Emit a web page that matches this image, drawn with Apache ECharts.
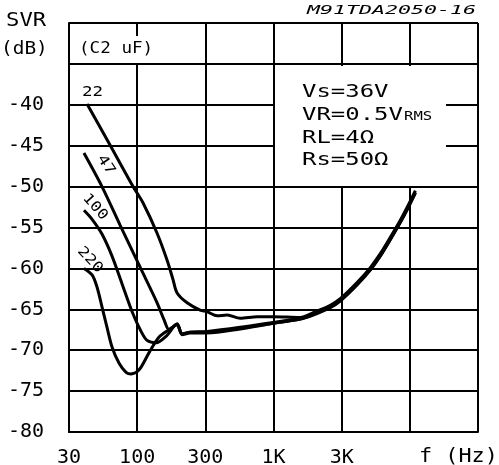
<!DOCTYPE html>
<html><head><meta charset="utf-8">
<script src="https://cdn.jsdelivr.net/npm/echarts@6/dist/echarts.min.js"></script>
<style>html,body{margin:0;padding:0;background:#fff}#c{width:499px;height:465px}</style>
</head><body><div id="c"></div>
<script>
// Tick labels for the x grid lines (half-decade steps 30,100,300,1K,3K,10K,30K)
const xTickLabels = ['30', '100', '300', '1K', '3K', '', ''];
const yMin = -80, yMax = -30, yStep = 5;

// C2 = 22 uF
const freq22 = [42.9, 62.2, 93.3, 110.5, 140, 165.8, 183.5, 196.3, 232.5, 289.6, 326, 386, 457, 570, 759, 995, 1570, 1956, 2608, 3088, 4117, 5129, 6073, 7193, 8516, 9585, 10975];
const svr22  = [-39.9, -44.7, -50.0, -52.0, -55.7, -59.0, -61.4, -63.0, -64.2, -65.1, -65.3, -65.8, -65.7, -66.1, -65.9, -65.9, -66.0, -65.4, -64.5, -63.7, -61.7, -59.9, -58.2, -56.2, -54.1, -52.5, -50.5];
// C2 = 47 uF
const freq47 = [40.7, 55.2, 74.9, 106.8, 140, 157.6, 171.5, 196.3, 213.6, 244.6, 326, 570, 995, 1570, 1956, 2608, 3088, 4117, 5129, 6073, 7193, 8516, 9585, 10975];
const svr47  = [-45.9, -50.0, -54.7, -60.1, -64.2, -66.3, -67.5, -66.8, -68.0, -67.8, -67.8, -67.3, -66.7, -66.2, -65.6, -64.7, -63.9, -61.9, -60.1, -58.4, -56.4, -54.3, -52.7, -50.7];
// C2 = 100 uF
const freq100 = [40.7, 46.7, 55.2, 65.4, 77.5, 91.8, 106.8, 118.2, 137.7, 163.0, 196.3, 213.6, 244.6, 326, 570, 995, 1570, 1956, 2608, 3088, 4117, 5129, 6073, 7193, 8516, 9585, 10975];
const svr100  = [-52.9, -54.0, -55.8, -58.5, -61.9, -65.3, -67.7, -68.8, -69.1, -68.3, -66.8, -68.0, -67.8, -67.7, -67.2, -66.6, -66.1, -65.6, -64.7, -63.9, -61.9, -60.1, -58.4, -56.4, -54.3, -52.7, -50.7];
// C2 = 220 uF
const freq220 = [40.7, 46.7, 50.8, 55.2, 60.1, 65.4, 73.7, 82.9, 90.2, 103.3, 122.3, 144.8, 171.5, 196.3, 213.6, 244.6, 326, 570, 995, 1570, 1956, 2608, 3088, 4117, 5129, 6073, 7193, 8516, 9585, 10975];
const svr220  = [-60.0, -60.8, -62.3, -64.7, -67.2, -69.6, -71.6, -72.7, -72.9, -72.4, -70.3, -68.4, -67.5, -66.9, -68.1, -67.9, -67.9, -67.4, -66.7, -66.2, -65.7, -64.8, -64.0, -62.0, -60.2, -58.5, -56.5, -54.4, -52.8, -50.8];

const curves = [
  {name: '22', f: freq22, v: svr22},
  {name: '47', f: freq47, v: svr47},
  {name: '100', f: freq100, v: svr100},
  {name: '220', f: freq220, v: svr220}
];

const MONO = '"DejaVu Sans Mono"';
const chart = echarts.init(document.getElementById('c'), null, {renderer: 'canvas'});

function txt(x, y, text, size, opts) {
  opts = opts || {};
  return {
    type: 'text', x: x, y: y, z: 101, zlevel: 0,
    rotation: opts.rot || 0,
    scaleX: opts.sx || 1,
    style: {
      text: text,
      font: (opts.italic ? 'italic ' : '') + size + 'px ' + MONO,
      fill: '#000',
      align: opts.align || 'left', textAlign: opts.align || 'left',
      verticalAlign: 'middle', textVerticalAlign: 'middle'
    }
  };
}

const option = {
  animation: false,
  backgroundColor: '#fff',
  grid: {left: 69, top: 23, width: 409, height: 409, containLabel: false, outerBoundsMode: 'none'},
  xAxis: {
    type: 'log',
    logBase: Math.sqrt(10),
    min: Math.pow(10, 1.5),
    max: Math.pow(10, 4.5),
    splitNumber: 6,
    axisLine: {show: true, lineStyle: {color: '#000', width: 2}},
    axisTick: {show: false},
    splitLine: {show: true, lineStyle: {color: '#000', width: 2}},
    minorSplitLine: {show: false},
    axisLabel: {
      margin: 16,
      color: '#000',
      fontFamily: 'DejaVu Sans Mono',
      fontSize: 20,
      formatter: function (v) {
        const i = Math.round(2 * Math.log10(v)) - 3;
        return xTickLabels[i] || '';
      }
    }
  },
  yAxis: {
    type: 'value',
    min: yMin, max: yMax, interval: yStep,
    axisLine: {show: true, lineStyle: {color: '#000', width: 2}},
    axisTick: {show: false},
    splitLine: {show: true, lineStyle: {color: '#000', width: 2}},
    axisLabel: {
      margin: 25,
      color: '#000',
      fontFamily: 'DejaVu Sans Mono',
      fontSize: 20,
      formatter: function (v) { return v > -40 ? '' : String(v); }
    }
  },
  series: curves.map(function (c) {
    return {
      name: c.name,
      type: 'line',
      showSymbol: false,
      smooth: 0.3,
      lineStyle: {color: '#000', width: 3},
      data: c.f.map(function (f, i) { return [f, c.v[i]]; }),
      z: 5
    };
  }),
  graphic: [
    // white backdrops of the annotation boxes
    {type: 'rect', z: 100, shape: {x: 76, y: 36, width: 82, height: 27}, style: {fill: '#fff'}},
    {type: 'rect', z: 100, shape: {x: 275, y: 66, width: 171, height: 120}, style: {fill: '#fff'}},
    txt(6, 21, 'SVR', 19, {sx: 1.17}),
    txt(1, 49, '(dB)', 18, {sx: 1.08}),
    txt(307, 11, 'M91TDA2050-16', 13, {sx: 1.66, italic: true}),
    txt(79, 49, '(C2 uF)', 16, {sx: 1.1}),
    txt(82, 92, '22', 14, {sx: 1.25}),
    txt(106, 165, '47', 14, {sx: 1.25, align: 'center', rot: -56 * Math.PI / 180}),
    txt(95, 207, '100', 14, {sx: 1.2, align: 'center', rot: -48 * Math.PI / 180}),
    txt(90, 260, '220', 14, {sx: 1.2, align: 'center', rot: -47 * Math.PI / 180}),
    txt(302, 92, 'Vs=36V', 18, {sx: 1.33}),
    txt(302, 115, 'VR=0.5V', 18, {sx: 1.33}),
    txt(404, 117, 'RMS', 12, {sx: 1.3}),
    txt(302, 138, 'RL=4\u03A9', 18, {sx: 1.33}),
    txt(302, 160, 'Rs=50\u03A9', 18, {sx: 1.33}),
    txt(419, 457, 'f (Hz)', 19, {sx: 1.15})
  ]
};
chart.setOption(option);
</script>
</body></html>
